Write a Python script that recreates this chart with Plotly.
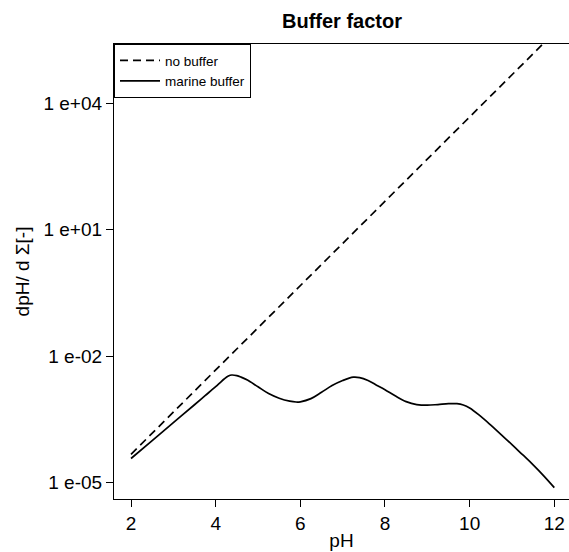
import plotly.graph_objects as go

# pH grid and buffer curves (values on a log10 scale of dpH/dΣ)
ph_nobuf = [2, 3, 4, 5, 6, 7, 8, 9, 10, 11, 12]
log_nobuf = [-4.33, -3.33, -2.33, -1.33, -0.33, 0.67, 1.67, 2.67, 3.67, 4.67, 5.67]

ph_marine = [2.0, 2.5, 3.0, 3.5, 3.75, 4.0, 4.1, 4.2, 4.3,
             4.38, 4.5, 4.6, 4.75, 5.0, 5.25, 5.5, 5.75, 5.9, 6.0, 6.25, 6.5,
             6.75, 7.0, 7.25, 7.4, 7.6, 7.8, 8.0, 8.25, 8.5, 8.75, 9.0, 9.25,
             9.5, 9.7, 9.85, 10.0, 10.25, 10.5, 10.75, 11.0, 11.25, 11.5,
             11.75, 12.0]
log_marine = [-4.43, -4.005, -3.58, -3.155, -2.94, -2.725, -2.635, -2.545, -2.475,
              -2.45, -2.465, -2.50, -2.57, -2.73, -2.89,
              -3.00, -3.07, -3.09, -3.085, -3.01, -2.86, -2.70, -2.58, -2.50,
              -2.51, -2.58, -2.69, -2.80, -2.95, -3.08, -3.15, -3.165, -3.15,
              -3.13, -3.13, -3.16, -3.23, -3.42, -3.64, -3.87, -4.10, -4.34,
              -4.58, -4.84, -5.12]

ytick_vals = [1e-5, 1e-2, 1e1, 1e4]
ytick_text = ["1 e-05", "1 e-02", "1 e+01", "1 e+04"]
xtick_vals = [2, 4, 6, 8, 10, 12]

FONT = "Liberation Sans, Arial, Helvetica, sans-serif"

fig = go.Figure()
fig.add_trace(go.Scatter(
    x=ph_nobuf, y=[10 ** v for v in log_nobuf], mode="lines",
    name="no buffer", line=dict(color="black", width=1.7, dash="8px,5px"),
))
fig.add_trace(go.Scatter(
    x=ph_marine, y=[10 ** v for v in log_marine], mode="lines",
    name="marine buffer",
    line=dict(color="black", width=1.7, shape="spline", smoothing=1.0),
))

fig.update_layout(
    width=569, height=552,
    margin=dict(l=114, r=0, t=44, b=53),
    paper_bgcolor="white", plot_bgcolor="white",
    font=dict(family=FONT, color="black", size=19),
    title=dict(text="<b>Buffer factor</b>", x=342 / 569, xanchor="center",
               y=1 - 21 / 552, yanchor="middle", font=dict(size=20)),
    showlegend=True,
    legend=dict(x=0, y=1, xanchor="left", yanchor="top", bordercolor="black",
                borderwidth=1, bgcolor="white", font=dict(size=13.5),
                itemwidth=40, tracegroupgap=0),
)
fig.update_xaxes(
    range=[1.598, 12.347], tickvals=xtick_vals, ticks="outside", ticklen=7,
    tickwidth=1, tickcolor="black", showline=True, mirror=True, linecolor="black",
    linewidth=1.2, showgrid=False, zeroline=False,
    title=dict(text="pH", standoff=0, font=dict(size=19)), tickfont=dict(size=19),
)
fig.update_yaxes(
    type="log", range=[-5.39, 5.40], tickvals=ytick_vals, ticktext=ytick_text,
    ticks="outside", ticklen=7, tickwidth=1, tickcolor="black", showline=True,
    mirror=False, linecolor="black", linewidth=1.2, showgrid=False, zeroline=False,
    title=dict(text="dpH/ d Σ[-]", standoff=8, font=dict(size=19)),
    tickfont=dict(size=19),
)

fig.write_html("out.html")
